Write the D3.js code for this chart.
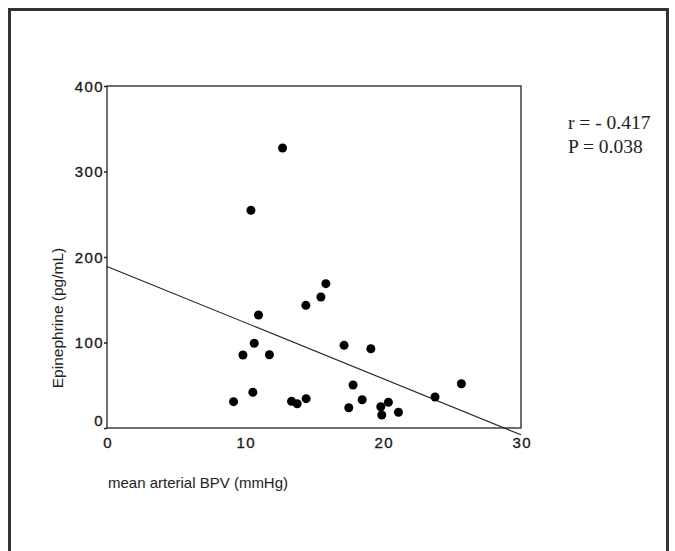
<!DOCTYPE html>
<html>
<head>
<meta charset="utf-8">
<script src="https://cdn.jsdelivr.net/npm/d3@7"></script>
<style>
  body { margin: 0; background: #fff; }
  .tick text { font-family: "Liberation Sans", Arial, sans-serif; font-size: 15px; letter-spacing: 1.4px; fill: #1a1a1a; stroke: #1a1a1a; stroke-width: 0.35px; }
  .label { font-family: "Liberation Sans", Arial, sans-serif; font-size: 15px; fill: #222; }
  .stat { font-family: "Liberation Serif", "Times New Roman", serif; font-size: 19.5px; fill: #222; }
</style>
</head>
<body>
<div class="graph"></div>
<script>
// mean arterial BPV (mmHg) vs epinephrine (pg/mL)
var bpv = [9.17, 9.85, 10.43, 10.57, 10.67, 10.98, 11.77, 12.72, 13.37, 13.78, 14.41, 14.43,
           15.50, 15.86, 17.18, 17.52, 17.83, 18.49, 19.12, 19.84, 19.91, 20.39, 21.12, 23.77, 25.68];
var epi = [30.8, 85.4, 254.6, 41.8, 99.1, 132.2, 85.7, 327.5, 31.2, 28.4, 143.5, 34.3,
           153.2, 168.8, 96.7, 23.7, 50.3, 33.1, 92.7, 24.9, 15.2, 30.1, 18.4, 36.3, 51.8];

// fitted line end points
var fitX = [0, 30];
var fitY = [189, -8];

var xTicks = [0, 10, 20, 30];
var yTicks = [0, 100, 200, 300, 400];
var stats = ["r = - 0.417", "P = 0.038"];

var margin = {top: 86, left: 107},
    width = 414,
    height = 342;

var svg = d3.select(".graph").append("svg")
    .attr("width", 675)
    .attr("height", 551);

// outer frame
svg.append("rect")
    .attr("x", 9.5).attr("y", 9.5)
    .attr("width", 658).attr("height", 570)
    .attr("fill", "none")
    .attr("stroke", "#333")
    .attr("stroke-width", 3);

var g = svg.append("g")
    .attr("transform", "translate(" + margin.left + "," + margin.top + ")");

var x = d3.scaleLinear().domain([0, 30]).range([0, width]);
var y = d3.scaleLinear().domain([0, 400]).range([height, 0]);

var data = bpv.map(function(d, i) { return {x: d, y: epi[i]}; });

g.append("rect")
    .attr("width", width)
    .attr("height", height)
    .attr("fill", "none")
    .attr("stroke", "#222")
    .attr("stroke-width", 1.3);

var xAxis = g.append("g")
    .attr("transform", "translate(0," + height + ")")
    .call(d3.axisBottom(x).tickValues(xTicks).tickSize(0).tickPadding(9));
xAxis.select(".domain").remove();
xAxis.selectAll(".tick text").attr("dx", "0.7px");

var yAxis = g.append("g")
    .call(d3.axisLeft(y).tickValues(yTicks).tickSize(3).tickPadding(0));
yAxis.select(".domain").remove();
yAxis.selectAll(".tick line").attr("stroke", "#222").attr("stroke-width", 1.5);
yAxis.selectAll(".tick text")
    .attr("dy", function(d) { return d === 0 ? "-0.15em" : "0.36em"; });

// regression line
g.append("line")
    .attr("x1", x(fitX[0])).attr("y1", y(fitY[0]))
    .attr("x2", x(fitX[1])).attr("y2", y(fitY[1]))
    .attr("stroke", "#222")
    .attr("stroke-width", 1.1);

g.selectAll(".dot")
    .data(data)
    .enter().append("circle")
    .attr("class", "dot")
    .attr("r", 4.5)
    .attr("cx", function(d) { return x(d.x); })
    .attr("cy", function(d) { return y(d.y); })
    .style("fill", "#000");

svg.append("text")
    .attr("class", "label")
    .attr("x", 108)
    .attr("y", 488)
    .text("mean arterial BPV (mmHg)");

svg.append("text")
    .attr("class", "label")
    .attr("transform", "translate(63,318) rotate(-90)")
    .attr("text-anchor", "middle")
    .style("font-size", "15.5px")
    .text("Epinephrine (pg/mL)");

svg.selectAll(".stat")
    .data(stats)
    .enter().append("text")
    .attr("class", "stat")
    .attr("x", 568)
    .attr("y", function(d, i) { return 129 + i * 24; })
    .text(function(d) { return d; });
</script>
</body>
</html>
